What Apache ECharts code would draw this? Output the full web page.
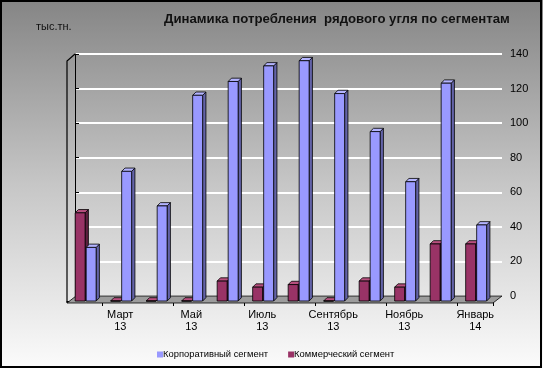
<!DOCTYPE html>
<html><head><meta charset="utf-8">
<script src="https://cdn.jsdelivr.net/npm/echarts@6/dist/echarts.min.js"></script>
<style>html,body{margin:0;padding:0;background:#fff}#c{width:543px;height:368px}</style>
</head><body><div id="c"></div>
<script>
const categories = ['Февраль\n13','Март\n13','Апрель\n13','Май\n13','Июнь\n13','Июль\n13','Август\n13','Сентябрь\n13','Октябрь\n13','Ноябрь\n13','Декабрь\n13','Январь\n14'];
const corporate = [31, 75, 55, 119, 127, 136, 139, 120, 98, 69, 126, 44];
const commercial = [51, 0, 0, 0, 11.5, 8, 9.5, 0, 11.5, 8, 33, 33];
const seriesNames = ['Корпоративный сегмент', 'Коммерческий сегмент'];
const yMin = 0, yMax = 140, yStep = 20;
const titleText = 'Динамика потребления  рядового угля по сегментам';
const unitText = 'тыс.тн.';

function make3D(front, top, side, offset) {
  return function (params, api) {
    const i = api.value(0), v = api.value(1);
    const p0 = api.coord([i, 0]), p1 = api.coord([i, v]);
    const band = api.size([1, 0])[0];
    const w = band * 0.28;
    const x = p0[0] + offset * band;
    const dx = 3.3, dy = -3.3;
    const yb = p0[1], yt = p1[1];
    const st = { stroke: '#000', lineWidth: 0.8 };
    return { type: 'group', children: [
      { type: 'polygon', shape: { points: [[x + w, yt], [x + w + dx, yt + dy], [x + w + dx, yb + dy], [x + w, yb]] }, style: Object.assign({ fill: side }, st) },
      { type: 'polygon', shape: { points: [[x, yt], [x + dx, yt + dy], [x + w + dx, yt + dy], [x + w, yt]] }, style: Object.assign({ fill: top }, st) },
      { type: 'rect', shape: { x: x, y: yt, width: w, height: yb - yt }, style: Object.assign({ fill: front }, st) }
    ]};
  };
}

const chart = echarts.init(document.getElementById('c'));
chart.setOption({
  animation: false,
  backgroundColor: { type: 'linear', x: 0, y: 0, x2: 0, y2: 1, colorStops: [
    { offset: 0, color: '#858585' }, { offset: 0.5, color: '#c6c6c6' }, { offset: 1, color: '#fbfbfb' }] },
  title: { text: titleText, left: 164, top: 13, padding: 0, textStyle: { fontSize: 13.2, fontWeight: 'bold', color: '#111', fontFamily: 'Liberation Sans' } },
  legend: {
    data: seriesNames, left: 152, top: 345, itemWidth: 6, itemHeight: 6, itemGap: 20, icon: 'rect',
    textStyle: { fontSize: 9.4, color: '#000', fontFamily: 'Liberation Sans', padding: [0, 0, 0, -5] }
  },
  grid: [
    { left: 67, right: 50, top: 59, bottom: 67, outerBoundsMode: 'none', containLabel: false },
    { left: 75, right: 41, top: 54, bottom: 72, outerBoundsMode: 'none', containLabel: false }
  ],
  xAxis: [
    { type: 'category', gridIndex: 0, data: categories, offset: 2,
      axisLine: { lineStyle: { color: '#000', width: 1 } },
      axisTick: { show: true, length: 5, lineStyle: { color: '#000' } },
      axisLabel: { interval: function (idx) { return idx % 2 === 1; }, color: '#000', fontSize: 11, lineHeight: 12, margin: 6, fontFamily: 'Liberation Sans' },
      splitLine: { show: false } },
    { type: 'value', gridIndex: 1, min: 0, max: 1, show: false }
  ],
  yAxis: [
    { type: 'value', gridIndex: 0, min: yMin, max: yMax, interval: yStep, show: false },
    { type: 'value', gridIndex: 1, position: 'right', min: yMin, max: yMax, interval: yStep,
      axisLine: { show: true, lineStyle: { color: '#000' } },
      axisTick: { show: true, length: 4, lineStyle: { color: '#000' } },
      axisLabel: { color: '#000', fontSize: 11, margin: 8, fontFamily: 'Liberation Sans' },
      splitLine: { show: true, lineStyle: { color: '#ffffff', width: 2 } } }
  ],
  graphic: [
    { type: 'rect', z: 100, shape: { x: 1, y: 1, width: 540, height: 366 }, style: { fill: 'none', stroke: '#000', lineWidth: 2 } },
    { type: 'text', left: 36, top: 21, style: { text: unitText, fontSize: 11, fill: '#111', fontFamily: 'Liberation Sans' } },
    { type: 'polygon', z: 1, shape: { points: [[67, 303], [76, 296], [502, 296], [493, 303]] }, style: { fill: '#9c9c9c', stroke: '#000', lineWidth: 0.8 } },
    { type: 'polyline', z: 1, shape: { points: [[67, 303], [67, 61], [75, 54]] }, style: { fill: 'none', stroke: '#000', lineWidth: 1.2 } }
  ],
  series: [
    { name: seriesNames[1], type: 'custom', xAxisIndex: 0, yAxisIndex: 0, z: 3,
      itemStyle: { color: '#993366' }, renderItem: make3D('#993366', '#b8507f', '#5e1f3f', -0.27),
      data: commercial.map((v, i) => [i, v]) },
    { name: seriesNames[0], type: 'custom', xAxisIndex: 0, yAxisIndex: 0, z: 3,
      itemStyle: { color: '#9999ff' }, renderItem: make3D('#9999ff', '#b4b4ff', '#6363a8', 0.04),
      data: corporate.map((v, i) => [i, v]) }
  ]
});
</script></body></html>
